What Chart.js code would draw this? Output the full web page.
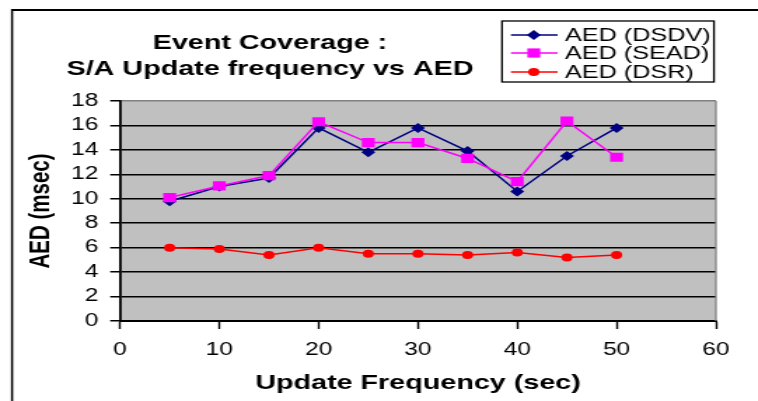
<!DOCTYPE html>
<html>
<head>
<meta charset="utf-8">
<script src="https://cdn.jsdelivr.net/npm/chart.js@4/dist/chart.umd.min.js"></script>
<style>
  html, body { margin: 0; padding: 0; background: #fff; overflow: hidden; }
  /* the drawing is laid out narrow and widened horizontally, like the wide-set lettering of the original sheet */
  #wrap { position: absolute; left: 0; top: 0; width: 541px; height: 401px; transform: scaleX(1.401); transform-origin: 0 0; }
</style>
</head>
<body>
<div id="wrap"><canvas id="c" width="541" height="401"></canvas></div>
<script>
// Update frequency (sec) on the x axis
const frequencies = [5, 10, 15, 20, 25, 30, 35, 40, 45, 50];
// Average end-to-end delay (msec) per protocol
const aedDSDV = [9.8, 11.0, 11.7, 15.8, 13.8, 15.8, 13.9, 10.6, 13.5, 15.8];
const aedSEAD = [10.1, 11.05, 11.9, 16.3, 14.6, 14.6, 13.3, 11.4, 16.35, 13.4];
const aedDSR  = [6.0, 5.9, 5.4, 6.0, 5.5, 5.5, 5.4, 5.6, 5.2, 5.4];
const seriesNames = ['AED (DSDV)', 'AED (SEAD)', 'AED (DSR)'];
const titleLines = ['Event Coverage :', 'S/A Update frequency vs AED'];
const xTitle = 'Update Frequency (sec)';
const yTitle = 'AED (msec)';
const xTicks = [0, 10, 20, 30, 40, 50, 60];
const yTicks = [0, 2, 4, 6, 8, 10, 12, 14, 16, 18];

const FONT = '"Liberation Sans", Arial, sans-serif';
const pts = ys => frequencies.map((f, i) => ({ x: f, y: ys[i] }));

const styles = [
  { color: '#000080', pointStyle: 'rectRot', radius: 5 },
  { color: '#FF00FF', pointStyle: 'rect', radius: 6.5 },
  { color: '#FF0000', pointStyle: 'circle', radius: 4 }
];

const sheetDecor = {
  id: 'sheetDecor',
  beforeDraw(chart) {
    const { ctx, chartArea: a } = chart;
    ctx.save();
    ctx.fillStyle = '#C0C0C0';
    ctx.fillRect(a.left, a.top, a.right - a.left, a.bottom - a.top);
    ctx.restore();
  },
  afterDatasetsDraw(chart) {
    const { ctx, chartArea: a } = chart;
    ctx.save();
    // right edge of the plot area
    ctx.strokeStyle = '#808080';
    ctx.lineWidth = 1.3;
    ctx.beginPath();
    ctx.moveTo(a.right, a.top);
    ctx.lineTo(a.right, a.bottom);
    ctx.stroke();
    ctx.restore();
  },
  afterDraw(chart) {
    const { ctx } = chart;
    ctx.save();
    // outer frame (top and left edges)
    ctx.strokeStyle = '#000';
    ctx.lineWidth = 2;
    ctx.beginPath();
    ctx.moveTo(541, 10);
    ctx.lineTo(8.6, 10);
    ctx.stroke();
    ctx.lineWidth = 1.5;
    ctx.beginPath();
    ctx.moveTo(8.6, 9);
    ctx.lineTo(8.6, 401);
    ctx.stroke();

    // title
    ctx.fillStyle = '#000';
    ctx.font = 'bold 20.5px ' + FONT;
    ctx.textAlign = 'center';
    ctx.textBaseline = 'middle';
    ctx.fillText(titleLines[0], 192.7, 43);
    ctx.fillText(titleLines[1], 192.7, 69.5);

    // legend box
    ctx.lineWidth = 1.3;
    ctx.strokeStyle = '#000';
    ctx.fillStyle = '#fff';
    ctx.fillRect(358.3, 21, 151.3, 61);
    ctx.strokeRect(358.3, 21, 151.3, 61);
    const rows = [35, 53, 72];
    ctx.font = '18px ' + FONT;
    ctx.textAlign = 'left';
    ctx.textBaseline = 'middle';
    chart.data.datasets.forEach((ds, i) => {
      const y = rows[i];
      ctx.strokeStyle = ds.borderColor;
      ctx.lineWidth = 1.4;
      ctx.beginPath();
      ctx.moveTo(364.7, y);
      ctx.lineTo(398, y);
      ctx.stroke();
      ctx.fillStyle = ds.backgroundColor;
      Chart.helpers.drawPoint(ctx, { pointStyle: ds.pointStyle, radius: ds.pointRadius, rotation: 0, borderWidth: 0 }, 381, y);
      ctx.fillStyle = '#000';
      ctx.fillText(seriesNames[i], 403.3, y + 1);
    });
    ctx.restore();
  }
};

const datasets = [aedDSDV, aedSEAD, aedDSR].map((vals, i) => ({
  label: seriesNames[i],
  data: pts(vals),
  borderColor: styles[i].color,
  backgroundColor: styles[i].color,
  pointBackgroundColor: styles[i].color,
  pointBorderColor: styles[i].color,
  pointBorderWidth: 0,
  pointStyle: styles[i].pointStyle,
  pointRadius: styles[i].radius,
  borderWidth: 1.5,
  tension: 0,
  fill: false,
  order: [1, 0, 2][i]
}));

new Chart(document.getElementById('c'), {
  type: 'line',
  data: { datasets },
  plugins: [sheetDecor],
  options: {
    responsive: false,
    animation: false,
    devicePixelRatio: 1,
    layout: { padding: { top: 101, right: 30, left: 0, bottom: 0 } },
    plugins: { legend: { display: false }, title: { display: false }, tooltip: { enabled: false } },
    scales: {
      x: {
        type: 'linear',
        min: 0,
        max: 60,
        afterBuildTicks(scale) { scale.ticks = xTicks.map(v => ({ value: v })); },
        afterFit(scale) { scale.height = 80; },
        ticks: { color: '#000', font: { family: FONT, size: 17.5, lineHeight: 1.2 }, padding: 11, maxRotation: 0 },
        grid: { drawOnChartArea: false, drawTicks: true, tickLength: 8, tickColor: '#000', tickWidth: 1.4 },
        border: { display: true, color: '#000', width: 2 },
        title: { display: true, text: xTitle, color: '#000', font: { family: FONT, size: 20.5, weight: 'bold', lineHeight: 1.2 }, padding: { top: 0, bottom: 5 } }
      },
      y: {
        type: 'linear',
        min: 0,
        max: 18,
        afterBuildTicks(scale) { scale.ticks = yTicks.map(v => ({ value: v })); },
        afterFit(scale) { scale.width = 85.65; },
        ticks: { color: '#000', font: { family: FONT, size: 17.5, lineHeight: 1.2 }, padding: 8.4 },
        grid: {
          color: c => (c.tick && c.tick.value === 18 ? '#808080' : '#000'),
          lineWidth: 1.5,
          tickLength: 7,
          tickColor: '#000'
        },
        border: { display: true, color: '#000', width: 1.8 },
        title: { display: true, text: yTitle, color: '#000', font: { family: FONT, size: 20.5, weight: 'bold', lineHeight: 1.2 }, padding: { top: 16.6, bottom: 0 } }
      }
    }
  }
});
</script>
</body>
</html>
